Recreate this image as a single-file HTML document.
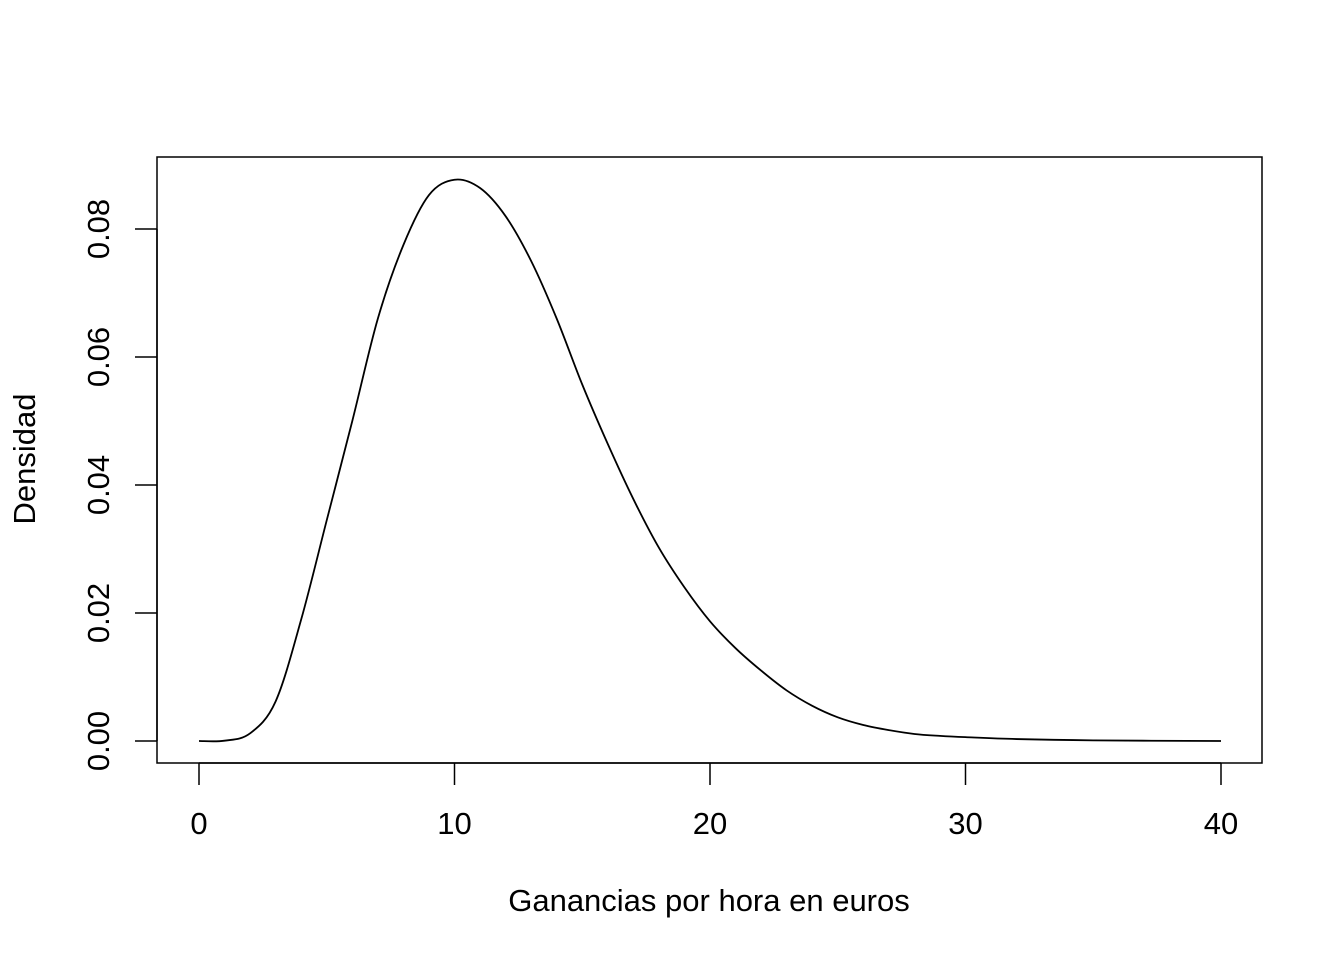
<!DOCTYPE html>
<html><head><meta charset="utf-8"><style>
html,body{margin:0;padding:0;background:#fff}
svg{display:block;font-family:"Liberation Sans",Arial,sans-serif}
</style></head><body>
<svg width="1344" height="960" viewBox="0 0 1344 960">
<rect x="157" y="157" width="1105" height="606" fill="none" stroke="#000" stroke-width="1.5"/>
<g id="xaxis"></g>
<g id="yaxis"></g>
<path id="curve" fill="none" stroke="#000" stroke-width="1.8"/>
<text x="709" y="911" font-size="31" text-anchor="middle">Ganancias por hora en euros</text>
<text transform="translate(35,459) rotate(-90)" font-size="31" text-anchor="middle">Densidad</text>
</svg>
<script>
const xs = [0,1,2,3,4,5,6,7,8,9,10,11,12,13,14,15,16,17,18,19,20,21,22,23,24,25,26,27,28,29,30,32,35,40];
const ys = [0,0.00005,0.0012,0.0062,0.019,0.0345,0.050,0.066,0.0775,0.0853,0.0877,0.0864,0.082,0.075,0.066,0.0557,0.0464,0.0378,0.0302,0.0240,0.0187,0.0145,0.0110,0.0079,0.0055,0.0037,0.0025,0.0017,0.0011,0.0008,0.0006,0.0003,0.0001,0];
const xTicks = [0,10,20,30,40];
const yTicks = [0,0.02,0.04,0.06,0.08];
const yTickLabels = ["0.00","0.02","0.04","0.06","0.08"];
const NS="http://www.w3.org/2000/svg";
function sx(v){return 199+v*(1221-199)/40;}
function sy(v){return 741-v*(741-229)/0.08;}
const xa=document.getElementById('xaxis');
let l=document.createElementNS(NS,'line');
l.setAttribute('x1',sx(xTicks[0]));l.setAttribute('x2',sx(xTicks[xTicks.length-1]));l.setAttribute('y1',763);l.setAttribute('y2',763);l.setAttribute('stroke','#000');l.setAttribute('stroke-width','1.5');
xa.appendChild(l);
xTicks.forEach(t=>{
 const tk=document.createElementNS(NS,'line');
 
 
 tk.setAttribute('x1',sx(t));tk.setAttribute('x2',sx(t));tk.setAttribute('y1',763);tk.setAttribute('y2',785);tk.setAttribute('stroke','#000');tk.setAttribute('stroke-width','1.5');
 xa.appendChild(tk);
 const tx=document.createElementNS(NS,'text');
 
 
 tx.setAttribute('x',sx(t));tx.setAttribute('y',834);tx.setAttribute('font-size','31');tx.setAttribute('text-anchor','middle');
 tx.textContent=t;xa.appendChild(tx);
});
const ya=document.getElementById('yaxis');
l=document.createElementNS(NS,'line');
l.setAttribute('x1',157);l.setAttribute('x2',157);l.setAttribute('y1',sy(yTicks[0]));l.setAttribute('y2',sy(yTicks[yTicks.length-1]));l.setAttribute('stroke','#000');l.setAttribute('stroke-width','1.5');
ya.appendChild(l);
yTicks.forEach((t,i)=>{
 const tk=document.createElementNS(NS,'line');
 
 
 tk.setAttribute('x1',135);tk.setAttribute('x2',157);tk.setAttribute('y1',sy(t));tk.setAttribute('y2',sy(t));tk.setAttribute('stroke','#000');tk.setAttribute('stroke-width','1.5');
 ya.appendChild(tk);
 const tx=document.createElementNS(NS,'text');
 
 
 tx.setAttribute('transform','translate(109,'+sy(t)+') rotate(-90)');tx.setAttribute('font-size','31');tx.setAttribute('text-anchor','middle');
 tx.textContent=yTickLabels[i];ya.appendChild(tx);
});
const P=xs.map((x,i)=>[sx(x),sy(ys[i])]);
let d='M'+P[0][0]+','+P[0][1];
for(let i=0;i<P.length-1;i++){
 const p0=P[Math.max(0,i-1)],p1=P[i],p2=P[i+1],p3=P[Math.min(P.length-1,i+2)];
 const c1=[p1[0]+(p2[0]-p0[0])/6,p1[1]+(p2[1]-p0[1])/6];
 const c2=[p2[0]-(p3[0]-p1[0])/6,p2[1]-(p3[1]-p1[1])/6];
 d+=' C'+c1[0]+','+c1[1]+' '+c2[0]+','+c2[1]+' '+p2[0]+','+p2[1];
}
document.getElementById('curve').setAttribute('d',d);
</script>
</body></html>
